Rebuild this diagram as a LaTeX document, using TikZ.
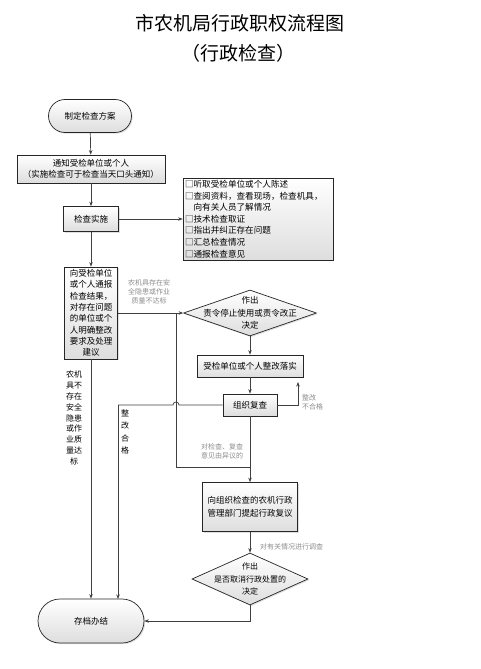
\documentclass[tikz,border=0pt]{standalone}
\usepackage{fontspec}
\setmainfont{Noto Sans CJK SC}
\usetikzlibrary{shapes.geometric,shapes.misc,arrows.meta,shadows}
\definecolor{ln}{HTML}{404040}
\definecolor{lbl}{HTML}{8C8C8C}
\tikzset{
  boxstyle/.style={draw=black!85, line width=0.7pt, top color=white, bottom color=black!13,
    align=center, inner sep=1pt, font=\fontsize{8.5}{11}\selectfont,
    drop shadow={shadow xshift=1.2pt, shadow yshift=-1.2pt, opacity=0.25}},
  termstyle/.style={boxstyle, rounded rectangle},
  diastyle/.style={draw=black!85, line width=0.7pt, top color=white, bottom color=black!13,
    diamond, inner sep=0pt,
    drop shadow={shadow xshift=1.2pt, shadow yshift=-1.2pt, opacity=0.25}},
  ttext/.style={align=center, inner sep=0pt, font=\fontsize{8.5}{12.5}\selectfont},
  conn/.style={draw=ln, line width=0.7pt},
  arr/.style={conn, -{Stealth[length=4.5pt, width=3.5pt]}},
  graylabel/.style={text=lbl, inner sep=0pt, font=\fontsize{7}{9}\selectfont},
  blacklabel/.style={text=black, inner sep=0pt, font=\fontsize{8}{10.9}\selectfont, align=center}
}
\begin{document}
\begin{tikzpicture}[x=1pt,y=-1pt]
\fill[white] (0,0) rectangle (480,669);
\useasboundingbox (0,0) rectangle (480,669);

% title
\node[inner sep=0pt, font=\fontsize{19}{22}\selectfont] (title) at (240,23) {市农机局行政职权流程图};
\node[inner sep=0pt, font=\fontsize{19}{22}\selectfont] (subtitle) at (238,53) {（行政检查）};

% nodes
\node[termstyle, minimum width=85pt, minimum height=33pt] (start) at (90,116) {制定检查方案};
\node[boxstyle, minimum width=148pt, minimum height=28pt] (notify) at (91,169)
  {通知受检单位或个人\\（实施检查可于检查当天口头通知）};
\node[boxstyle, minimum width=55pt, minimum height=25pt] (impl) at (91,219) {检查实施};
\node[boxstyle, minimum width=150pt, minimum height=82pt, align=left, text width=146pt,
  font=\fontsize{8.6}{11.6}\selectfont] (list) at (258,219)
  {□听取受检单位或个人陈述\\□查阅资料，查看现场，检查机具，\\\hspace*{8.6pt}向有关人员了解情况\\□技术检查取证\\□指出并纠正存在问题\\□汇总检查情况\\□通报检查意见};
\node[boxstyle, minimum width=53pt, minimum height=92pt,
  font=\fontsize{8.5}{11.3}\selectfont] (report) at (91,313)
  {向受检单位\\或个人通报\\检查结果，\\对存在问题\\的单位或个\\人明确整改\\要求及处理\\建议};
\node[diastyle, minimum width=133pt, minimum height=46pt] (d1) at (250,313) {};
\node[ttext] (d1t) at (d1) {作出\\责令停止使用或责令改正\\决定};
\node[boxstyle, minimum width=106pt, minimum height=22pt] (rectify) at (250,366) {受检单位或个人整改落实};
\node[boxstyle, minimum width=54pt, minimum height=22pt] (review) at (250,405) {组织复查};
\node[boxstyle, minimum width=95pt, minimum height=49pt, font=\fontsize{8.5}{13}\selectfont] (appeal) at (250,507)
  {向组织检查的农机行政\\管理部门提起行政复议};
\node[diastyle, minimum width=116pt, minimum height=52pt] (d2) at (250,579) {};
\node[ttext, font=\fontsize{8}{12.5}\selectfont] (d2t) at (d2) {作出\\是否取消行政处置的\\决定};
\node[termstyle, minimum width=108pt, minimum height=44pt] (end) at (91,621) {存档办结};

% coordinates
\coordinate (j1) at (176,313);
\coordinate (j2) at (250,467);
\coordinate (r1) at (298,405);
\coordinate (r2) at (298,382);
\coordinate (l1) at (118,405);
\coordinate (l2) at (118,599);
\coordinate (e1) at (250,621);

% connectors
\draw[arr] (start) -- (notify);
\draw[arr] (notify) -- (impl);
\draw[arr] (impl.east) -- (list.west |- impl.east);
\draw[arr] (impl) -- (report);
\draw[arr] (report.south) -- (end.north);
\draw[arr] (report.east |- j1) -- (d1.west);
\draw[conn] (j1) |- (j2);
\draw[arr] (d1.south) -- (rectify.north);
\draw[arr] (rectify) -- (review);
\draw[arr] (review.east) -- (r1) -- (r2);
\draw[conn] (review.west) -- (179,405) arc (0:-180:3) -- (l1);
\draw[arr] (l1) -- (l2);
\draw[arr] (review.south) -- (appeal.north);
\draw[arr] (appeal) -- (d2);
\draw[arr] (d2.south) -- (e1) -- (end.east);

% labels
\node[graylabel, align=center] (lab1) at (149,292) {农机具存在安\\全隐患或作业\\质量不达标};
\node[graylabel, align=left, anchor=west] (lab2) at (302,402) {整改\\不合格};
\node[graylabel, align=center] (lab3) at (222,451) {对检查、复查\\意见由异议的};
\node[graylabel, anchor=west] (lab4) at (260,547) {对有关情况进行调查};
\node[blacklabel] (lab5) at (74,418) {农机\\具不\\存在\\安全\\隐患\\或作\\业质\\量达\\标};
\node[blacklabel, font=\fontsize{8}{12.5}\selectfont] (lab6) at (125,432) {整\\改\\合\\格};
\end{tikzpicture}
\end{document}
